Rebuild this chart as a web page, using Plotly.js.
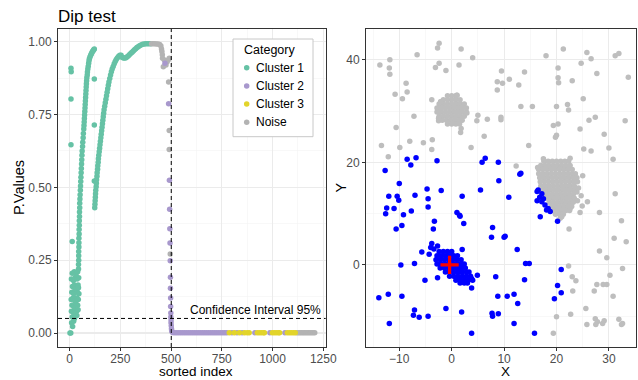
<!DOCTYPE html>
<html>
<head>
<meta charset="utf-8">
<script src="https://cdn.plot.ly/plotly-3.0.1.min.js"></script>
<style>html,body{margin:0;padding:0;background:#fff;}#chart{width:638px;height:380px;}</style>
</head>
<body>
<div id="chart"></div>
<script>
// ---------------- Left panel: Dip test p-values by sorted index ----------------
const categories = ['Cluster 1', 'Cluster 2', 'Cluster 3', 'Noise'];
const catColors = ['#66C2A5', '#A898CD', '#E2D42B', '#B3B3B3'];

// Cluster 1: early outliers, lower mass, first curve, outliers, second curve
const c1Index = [
  2,6,7,8,7,7,13,
  15,10,20,13,24,30, 9,18,27,35, 12,22,32,40, 8,17,26,36,43, 11,21,30,39,46, 14,24,34,42, 9,19,28,37,45, 13,23,32,40, 27,44,36,42,
  44,44,45,45,45,46,46,46,47,47,48,48,49,49,50,50,51,52,53,54,55,56,57,58,59,60,61,62,64,65,67,68,70,
  71,72,73,74,75,76,77,78,79,80,81,82,83,84,85,87,88,90,92,94,96,98,101,104,107,110,113,116,119,122,
  122,122,122,
  124,125,126,127,128,129,131,132,133,135,136,138,139,141,142,
  144,146,148,150,152,154,156,158,160,162,164,166,168,170,
  173,176,179,182,185,188,191,194,198,202,206,210,215,220,225,230,
  236,242,248,254,260,266,272,278,284,290,296,302,308,314,320,326,332,338,
  345,352,360,368,376,384,392,400
];
const c1P = [
  0,0,0.909,0.897,0.803,0.646,0.314,
  0.022,0.035,0.04,0.055,0.05,0.06, 0.075,0.07,0.08,0.075, 0.095,0.09,0.1,0.095, 0.115,0.12,0.11,0.12,0.115, 0.14,0.135,0.145,0.14,0.135, 0.16,0.165,0.16,0.165, 0.185,0.18,0.19,0.185,0.19, 0.205,0.21,0.2,0.21, 0.15,0.155,0.06,0.08,
  0.22,0.235,0.25,0.265,0.28,0.295,0.31,0.325,0.34,0.355,0.37,0.385,0.40,0.415,0.43,0.445,0.46,0.475,0.49,0.505,0.52,0.535,0.55,0.565,0.58,0.595,0.61,0.625,0.64,0.655,0.67,0.685,0.70,
  0.712,0.724,0.736,0.748,0.76,0.772,0.784,0.796,0.808,0.82,0.832,0.844,0.856,0.866,0.876,0.886,0.896,0.906,0.916,0.926,0.935,0.942,0.948,0.953,0.958,0.962,0.966,0.969,0.972,0.975,
  0.872,0.714,0.522,
  0.43,0.442,0.454,0.466,0.478,0.49,0.502,0.514,0.526,0.538,0.55,0.562,0.574,0.586,0.598,
  0.61,0.622,0.634,0.646,0.658,0.67,0.682,0.694,0.706,0.718,0.73,0.742,0.754,0.766,
  0.778,0.79,0.802,0.814,0.826,0.838,0.85,0.862,0.874,0.886,0.897,0.906,0.915,0.924,0.932,0.939,
  0.945,0.95,0.953,0.953,0.946,0.944,0.944,0.945,0.948,0.952,0.956,0.96,0.964,0.968,0.972,0.976,0.98,0.983,
  0.986,0.989,0.991,0.992,0.993,0.993,0.993,0.993
];

// Cluster 2
const c2Index = [
  470,488,492,493,494,495,496,497,497,498,498,499,499,500,500,501,502,503,505,508,
  515,525,535,545,555,565,575,585,595,605,615,625,635,645,655,665,675,685,695,705,715,725,735,745,755,765,
  775,800,825,850,913,987,1061
];
const c2P = [
  0.926,0.787,0.524,0.425,0.358,0.309,0.248,0.191,0.154,0.12,0.091,0.069,0.055,0.045,0.035,0.025,0.015,0.008,0.004,0.002,
  0.001,0.001,0.001,0.001,0.001,0.001,0.001,0.001,0.001,0.001,0.001,0.001,0.001,0.001,0.001,0.001,0.001,0.001,0.001,0.001,0.001,0.001,0.001,0.001,0.001,0.001,
  0.001,0.001,0.001,0.001,0.001,0.001,0.001
];

// Cluster 3
const c3Index = [787,812,837,862,875,885,925,935,945,955,960,999,1009,1019,1029,1035,1073,1083,1093,1103,1112];
const c3P = [0.001,0.001,0.001,0.001,0.001,0.001,0.001,0.001,0.001,0.001,0.001,0.001,0.001,0.001,0.001,0.001,0.001,0.001,0.001,0.001,0.001];

// Noise
const noiseIndex = [
  404,412,420,428,436,444,450,453,455,457,458,462,467,475,480,486,491,488,491,491,496,
  1120,1128,1136,1144,1152,1160,1168,1176,1184,1192,1200,1208
];
const noiseP = [
  0.993,0.993,0.993,0.992,0.992,0.99,0.985,0.975,0.966,0.955,0.943,0.914,0.937,0.92,0.93,0.937,0.943,0.862,0.695,0.630,0.271,
  0.001,0.001,0.001,0.001,0.001,0.001,0.001,0.001,0.001,0.001,0.001,0.001
];

const cutoffIndex = 501;      // vertical dashed line
const alphaLevel = 0.05;      // horizontal dashed line
const ciLabel = 'Confidence Interval 95%';

// ---------------- Right panel: X / Y scatter ----------------
const noiseX = [
  -13.7,-11.8,-11.9,-11.8,-6.6,-2.4,-2.7,1.8,4.0,-2.4,-3.1,-1.1,1.4,-8.7,-8.5,-10.8,-9.4,-3.8,-2.1,1.0,
  -7.2,-10.6,-2.5,1.8,1.7,-13.4,-12.1,-9.9,-8.0,-5.4,-3.7,-3.8,3.7,5.0,4.8,6.8,6.2,9.4,9.4,8.7,
  8.7,9.7,9.5,11.0,12.8,13.9,13.2,15.4,14.7,12.3,18.0,21.3,20.3,20.3,20.4,23.0,20.0,22.1,22.3,19.4,
  20.3,20.0,19.8,24.7,25.8,26.6,27.7,25.1,24.5,26.2,27.4,29.1,25.2,26.6,30.0,30.8,25.0,31.2,31.9,33.7,
  33.1,24.7,24.0,25.9,24.9,22.3,24.5,20.7,28.2,31.2,32.4,22.4,31.0,33.3,28.2,29.6,32.6,30.2,22.3,23.0,
  23.7,23.1,27.7,27.2,28.9,29.6,30.8,25.6,22.7,20.0,19.4,25.8,27.4,27.8,27.5,28.8,29.1,31.9,32.4,32.6,22.6,
  // dense blob near (0, 30)
  -0.8,0,0.8, -1.6,-0.8,0,0.8,1.6, -2.4,-1.6,-0.8,0,0.8,1.6,2.4, -2.8,-2.0,-1.2,-0.4,0.4,1.2,2.0,2.8,
  -2.8,-2.0,-1.2,-0.4,0.4,1.2,2.0,2.8, -2.4,-1.6,-0.8,0,0.8,1.6,2.4, -1.8,-1.0,-0.2,0.6,1.4,2.0, -0.8,0,0.8,1.5,
  -2.1,1.0,2.9,-2.5,
  // dense blob near (20, 15)
  17.6,18.4,19.2,20.0,20.8,21.6,22.3,
  17.0,17.8,18.6,19.4,20.2,21.0,21.8,22.6,
  16.6,17.4,18.2,19.0,19.8,20.6,21.4,22.2,23.0,
  16.6,17.4,18.2,19.0,19.8,20.6,21.4,22.2,23.0,23.6,
  16.8,17.6,18.4,19.2,20.0,20.8,21.6,22.4,23.2,23.9,
  16.9,17.7,18.5,19.3,20.1,20.9,21.7,22.5,23.3,24.0,
  17.0,17.8,18.6,19.4,20.2,21.0,21.8,22.6,23.4,
  17.2,18.0,18.8,19.6,20.4,21.2,22.0,22.8,23.5,
  17.6,18.4,19.2,20.0,20.8,21.6,22.4,23.2,
  18.0,18.8,19.6,20.4,21.2,22.0,22.8,23.4,
  18.6,19.4,20.2,21.0,21.8,22.6,23.2,
  19.0,19.8,20.6,21.4,22.2,22.9,
  19.4,20.2,21.0,21.8,22.5,
  19.8,20.6,21.3,
  16.4,17.5,22.6,24.2,21.0,23.9
];
const noiseY = [
  39.0,40.0,38.4,37.2,41.0,43.2,42.3,42.1,40.4,39.3,38.5,37.9,39.0,35.4,33.7,33.3,32.4,32.2,31.8,33.1,
  29.0,26.8,28.1,26.6,25.8,23.3,21.1,22.9,24.1,23.8,24.4,22.5,22.9,29.2,28.1,28.4,25.1,28.8,28.3,35.7,
  34.1,35.4,37.8,36.2,35.1,37.6,30.9,30.9,23.3,19.3,40.8,42.1,38.4,36.5,35.5,35.9,30.9,31.3,30.2,27.2,
  27.5,25.3,24.9,39.3,41.4,40.2,37.3,32.4,26.5,28.2,28.8,25.5,22.6,22.2,22.8,20.6,17.4,40.8,41.2,36.6,
  28.1,13.5,12.5,12.3,11.5,10.9,10.2,9.1,10.2,13.9,8.6,7.0,5.2,4.5,2.7,1.4,-0.7,-2.0,-0.2,-2.3,
  -3.1,-5.1,-3.8,-5.1,-3.8,-3.8,-6.1,-8.5,-9.6,-10.1,-13.3,-11.6,-10.5,-11.1,-11.6,-11.4,-10.9,-10.6,-11.6,-11.4,11.0,
  33.0,33.0,33.0, 32.2,32.2,32.2,32.2,32.2, 31.4,31.4,31.4,31.4,31.4,31.4,31.4, 30.6,30.6,30.6,30.6,30.6,30.6,30.6,30.6,
  29.8,29.8,29.8,29.8,29.8,29.8,29.8,29.8, 29.0,29.0,29.0,29.0,29.0,29.0,29.0, 28.2,28.2,28.2,28.2,28.2,28.2, 27.5,27.5,27.5,27.5,
  31.8,33.1,29.6,28.6,
  20.2,20.2,20.2,20.2,20.2,20.2,20.2,
  19.4,19.4,19.4,19.4,19.4,19.4,19.4,19.4,
  18.6,18.6,18.6,18.6,18.6,18.6,18.6,18.6,18.6,
  17.8,17.8,17.8,17.8,17.8,17.8,17.8,17.8,17.8,17.8,
  17.0,17.0,17.0,17.0,17.0,17.0,17.0,17.0,17.0,17.0,
  16.2,16.2,16.2,16.2,16.2,16.2,16.2,16.2,16.2,16.2,
  15.4,15.4,15.4,15.4,15.4,15.4,15.4,15.4,15.4,
  14.6,14.6,14.6,14.6,14.6,14.6,14.6,14.6,14.6,
  13.8,13.8,13.8,13.8,13.8,13.8,13.8,13.8,
  13.0,13.0,13.0,13.0,13.0,13.0,13.0,13.0,
  12.2,12.2,12.2,12.2,12.2,12.2,12.2,
  11.4,11.4,11.4,11.4,11.4,11.4,
  10.6,10.6,10.6,10.6,10.6,
  9.9,9.9,9.9,
  19.0,20.7,20.8,15.0,9.4,14.2
];

const clusterX = [
  -12.7,-8.5,-6.8,-7.8,-2.8,-10.0,-12.0,-10.4,-10.1,-7.0,-4.7,-2.0,-4.5,-4.5,-12.4,-11.0,-12.6,-9.2,-7.7,-10.6,
  -9.5,-3.3,-3.5,2.3,1.0,1.5,1.6,2.0,5.5,5.8,6.4,8.9,9.0,10.9,13.0,13.2,7.8,7.6,10.0,10.2,
  16.9,20.2,-5.7,-4.3,-3.8,-4.0,-3.4,-2.7,-7.1,-9.7,-5.1,-2.7,2.0,4.9,3.8,3.8,8.4,12.5,14.1,14.8,
  13.9,-13.9,-12.1,-9.5,-1.1,-7.1,-7.3,-6.2,-4.5,-11.9,1.9,3.8,8.8,10.6,11.9,12.6,7.7,7.8,8.9,11.9,
  15.8,20.9,20.2,20.9,19.6,
  // along the lower-left edge of the grey blob
  16.3,17.2,16.3,17.2,17.8,18.4,18.1,18.8,16.5,16.8,17.5,
  // dense blob near the origin
  -2.4,-1.6,-0.8,0.0,
  -2.8,-2.0,-1.2,-0.4,0.4,1.1,
  -3.0,-2.2,-1.4,-0.6,0.2,1.0,1.8,
  -2.8,-2.0,-1.2,-0.4,0.4,1.2,2.0,2.4,
  -2.2,-1.4,-0.6,0.2,1.0,1.8,2.6,
  -1.2,-0.4,0.4,1.2,2.0,2.8,3.3,
  -0.4,0.4,1.2,2.0,2.8,3.6,
  0.8,1.6,2.4,3.2,4.0,
  1.6,2.4,3.0
];
const clusterY = [
  18.4,20.6,20.9,19.5,20.3,15.9,13.4,13.4,12.6,13.6,14.8,14.5,12.9,11.3,11.1,11.0,10.0,9.8,10.5,7.0,
  7.7,8.5,7.0,8.1,10.2,9.7,9.5,13.4,14.6,20.0,20.8,20.0,16.4,13.2,17.7,17.9,7.3,5.4,5.4,5.6,
  9.4,8.5,2.5,2.1,4.2,3.4,3.1,3.7,0.3,0.0,-3.0,-2.5,3.0,-2.0,-2.7,-4.5,-2.3,3.0,0.3,0.3,
  -2.9,-6.4,-5.7,-6.1,-8.5,-8.8,-9.8,-10.2,-10.0,-11.4,-9.2,-13.3,-6.1,-6.1,-5.7,-7.5,-9.4,-10.0,-9.5,-11.4,
  -13.3,-0.9,-4.0,-5.4,-6.6,
  14.3,13.9,12.5,12.3,11.7,11.0,10.7,10.4,14.6,13.2,12.9,
  2.6,2.6,2.6,2.6,
  1.8,1.8,1.8,1.8,1.8,1.8,
  1.0,1.0,1.0,1.0,1.0,1.0,1.0,
  0.2,0.2,0.2,0.2,0.2,0.2,0.2,0.2,
  -0.6,-0.6,-0.6,-0.6,-0.6,-0.6,-0.6,
  -1.4,-1.4,-1.4,-1.4,-1.4,-1.4,-1.4,
  -2.2,-2.2,-2.2,-2.2,-2.2,-2.2,
  -3.0,-3.0,-3.0,-3.0,-3.0,
  -3.5,-3.5,-3.5
];

const centerX = [-0.4];
const centerY = [0.0];

// ---------------- Build figure ----------------
const FONT = 'Liberation Sans, Arial, Helvetica, sans-serif';
const W = 638, H = 380;
const px = (v) => v / W;          // pixel -> paper x
const py = (v) => 1 - v / H;      // pixel -> paper y

function leftTrace(xs, ys, i) {
  return {
    type: 'scatter', mode: 'markers', x: xs, y: ys, name: categories[i],
    xaxis: 'x', yaxis: 'y', showlegend: false,
    marker: {color: catColors[i], size: 5.5, line: {width: 0}}, hoverinfo: 'skip'
  };
}
const traces = [
  leftTrace(c1Index, c1P, 0),
  leftTrace(noiseIndex, noiseP, 3),
  leftTrace(c2Index, c2P, 1),
  leftTrace(c3Index, c3P, 2),
  {type: 'scatter', mode: 'markers', x: noiseX, y: noiseY, xaxis: 'x2', yaxis: 'y2',
   showlegend: false, marker: {color: '#BEBEBE', size: 5.5, line: {width: 0}}, hoverinfo: 'skip'},
  {type: 'scatter', mode: 'markers', x: clusterX, y: clusterY, xaxis: 'x2', yaxis: 'y2',
   showlegend: false, marker: {color: '#0000FF', size: 5.5, line: {width: 0}}, hoverinfo: 'skip'},
  {type: 'scatter', mode: 'markers', x: centerX, y: centerY, xaxis: 'x2', yaxis: 'y2',
   showlegend: false, marker: {color: '#FF0000', symbol: 'cross-thin', size: 13, line: {width: 3.2, color: '#FF0000'}}, hoverinfo: 'skip'}
];

const axisCommon = {
  showline: true, mirror: true, linecolor: '#333333', linewidth: 1,
  ticks: 'outside', ticklen: 3, tickwidth: 1, tickcolor: '#333333',
  tickfont: {family: FONT, size: 12, color: '#4D4D4D'},
  showgrid: true, gridcolor: '#EBEBEB', gridwidth: 1.1,
  zeroline: false, automargin: false, fixedrange: true
};
const minorGrid = (d) => ({dtick: d, showgrid: true, gridcolor: '#F3F3F3', gridwidth: 0.6, ticks: ''});
const yDomain = [py(347), py(29)];

// manual legend (ggplot style, inside the left panel)
const legendBox = {x0: 233, x1: 313, y0: 39, y1: 136.7};
const legendRows = [67.7, 85.9, 104.1, 122.3];
const legendShapes = [
  {type: 'rect', xref: 'paper', yref: 'paper', x0: px(legendBox.x0), x1: px(legendBox.x1),
   y0: py(legendBox.y1), y1: py(legendBox.y0), fillcolor: '#FFFFFF', line: {color: '#C8C8C8', width: 1}, layer: 'above'}
].concat(legendRows.map((r, i) => ({
  type: 'circle', xref: 'paper', yref: 'paper', x0: px(246.7 - 2.75), x1: px(246.7 + 2.75),
  y0: py(r + 2.75), y1: py(r - 2.75), fillcolor: catColors[i], line: {width: 0}, layer: 'above'
})));
const legendTexts = [
  {xref: 'paper', yref: 'paper', x: px(241.5), y: py(50), xanchor: 'left', yanchor: 'middle', showarrow: false,
   text: 'Category', font: {family: FONT, size: 12.5, color: '#000000'}}
].concat(categories.map((c, i) => ({
  xref: 'paper', yref: 'paper', x: px(253.5), y: py(legendRows[i]), xanchor: 'left', yanchor: 'middle', showarrow: false,
  text: c, font: {family: FONT, size: 12, color: '#000000'}
})));

const axisTitles = [
  {xref: 'paper', yref: 'paper', x: px(196), y: py(380), xanchor: 'center', yanchor: 'bottom', showarrow: false,
   text: 'sorted index', font: {family: FONT, size: 13.5, color: '#000000'}, borderpad: 0},
  {xref: 'paper', yref: 'paper', x: px(19), y: py(188), xanchor: 'center', yanchor: 'middle', showarrow: false,
   text: 'P.Values', textangle: -90, font: {family: FONT, size: 14.5, color: '#000000'}},
  {xref: 'paper', yref: 'paper', x: px(505), y: py(380), xanchor: 'center', yanchor: 'bottom', showarrow: false,
   text: 'X', font: {family: FONT, size: 13.5, color: '#000000'}, borderpad: 0},
  {xref: 'paper', yref: 'paper', x: px(340.5), y: py(188), xanchor: 'center', yanchor: 'middle', showarrow: false,
   text: 'Y', textangle: -90, font: {family: FONT, size: 14.5, color: '#000000'}}
];

const layout = {
  width: W, height: H,
  margin: {l: 0, r: 0, t: 0, b: 0, pad: 0},
  paper_bgcolor: '#FFFFFF', plot_bgcolor: '#FFFFFF',
  font: {family: FONT, color: '#000000'},
  title: {text: 'Dip test', x: px(58), xref: 'paper', xanchor: 'left', y: py(16.5), yref: 'container', yanchor: 'middle',
          font: {family: FONT, size: 17, color: '#000000'}},
  showlegend: false,
  xaxis: Object.assign({}, axisCommon, {
    domain: [px(58), px(325.7)], range: [-57, 1262], anchor: 'y', ticklabelstandoff: -2,
    tickvals: [0, 250, 500, 750, 1000, 1250], minor: minorGrid(125)
  }),
  yaxis: Object.assign({}, axisCommon, {
    domain: yDomain, range: [-0.048, 1.0435], anchor: 'x',
    tickvals: [0, 0.25, 0.5, 0.75, 1], tickformat: '.2f', minor: minorGrid(0.125)
  }),
  xaxis2: Object.assign({}, axisCommon, {
    domain: [px(366), px(636)], range: [-16.35, 35.17], anchor: 'y2', ticklabelstandoff: -2,
    tickvals: [-10, 0, 10, 20, 30], minor: minorGrid(5)
  }),
  yaxis2: Object.assign({}, axisCommon, {
    domain: yDomain, range: [-16, 46], anchor: 'x2',
    tickvals: [0, 20, 40], minor: minorGrid(10)
  }),
  shapes: [
    {type: 'line', xref: 'x', yref: 'y domain', x0: cutoffIndex, x1: cutoffIndex, y0: 0, y1: 1,
     line: {color: '#000000', width: 1, dash: '4px,3px'}},
    {type: 'line', xref: 'x domain', yref: 'y', x0: 0, x1: 1, y0: alphaLevel, y1: alphaLevel,
     line: {color: '#000000', width: 1, dash: '4px,3px'}}
  ].concat(legendShapes),
  annotations: [
    {xref: 'x', yref: 'y', x: 1245, y: alphaLevel, xanchor: 'right', yanchor: 'bottom', showarrow: false,
     text: ciLabel, font: {family: FONT, size: 12, color: '#000000'}, borderpad: 0}
  ].concat(legendTexts, axisTitles)
};

Plotly.newPlot('chart', traces, layout, {displayModeBar: false, staticPlot: true});
</script>
</body>
</html>
